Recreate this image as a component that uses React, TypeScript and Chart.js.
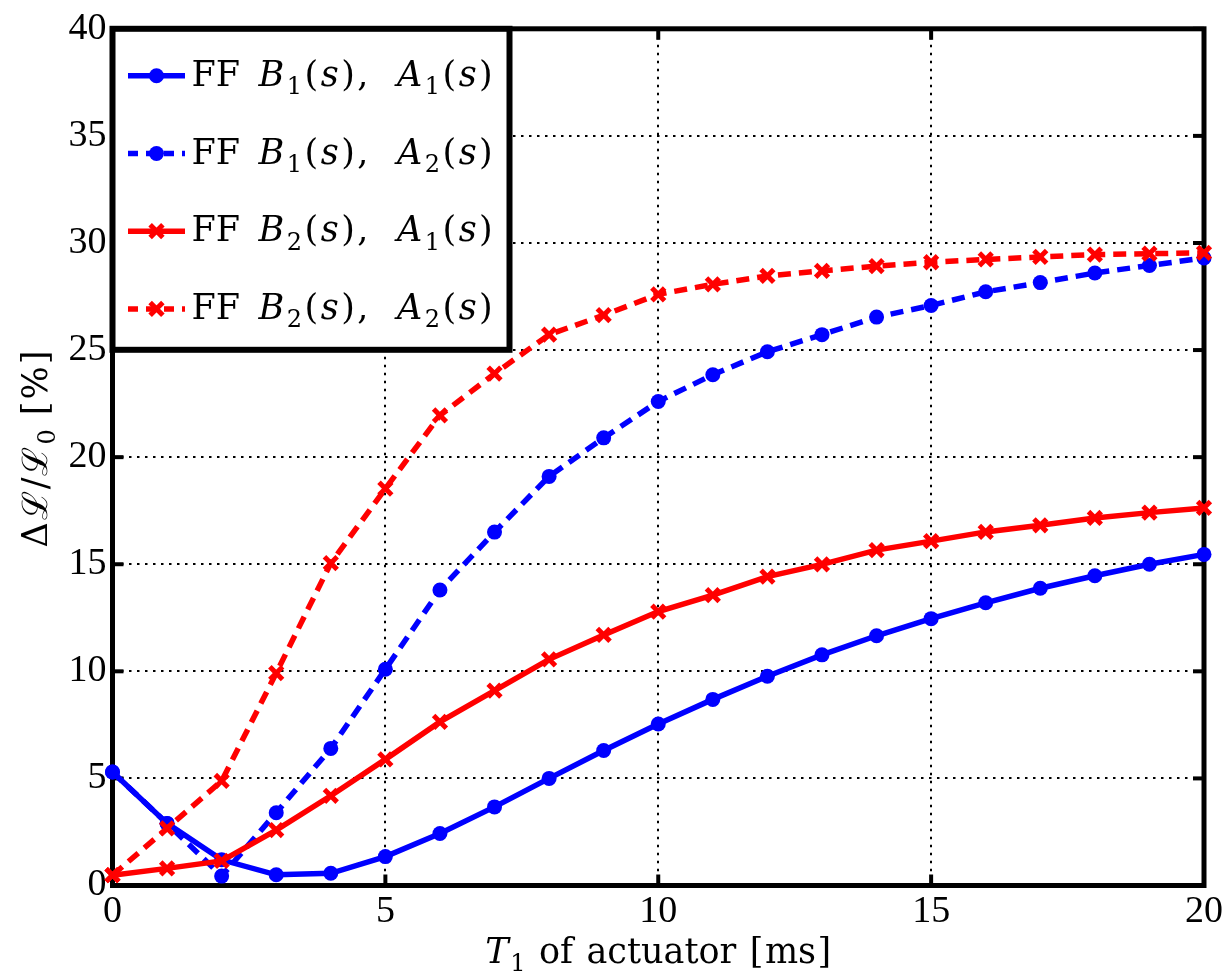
import React, { useEffect, useRef } from 'react';
import { Chart, registerables } from 'chart.js';

Chart.register(...registerables);

// ---- data ----
const T1 = [0, 1, 2, 3, 4, 5, 6, 7, 8, 9, 10, 11, 12, 13, 14, 15, 16, 17, 18, 19, 20];
const ffB1A1 = [5.3, 2.9, 1.2, 0.5, 0.57, 1.35, 2.43, 3.67, 5.0, 6.3, 7.54, 8.69, 9.77, 10.77, 11.66, 12.46, 13.2, 13.88, 14.46, 15.0, 15.46];
const ffB1A2 = [5.3, 2.9, 0.44, 3.4, 6.4, 10.1, 13.8, 16.5, 19.1, 20.9, 22.6, 23.85, 24.92, 25.72, 26.54, 27.08, 27.72, 28.15, 28.6, 28.95, 29.3];
const ffB2A1 = [0.48, 0.8, 1.15, 2.59, 4.19, 5.89, 7.64, 9.1, 10.56, 11.7, 12.79, 13.56, 14.42, 14.99, 15.66, 16.08, 16.51, 16.82, 17.16, 17.41, 17.63];
const ffB2A2 = [0.48, 2.67, 4.88, 9.92, 15.05, 18.53, 21.95, 23.9, 25.72, 26.63, 27.6, 28.07, 28.46, 28.7, 28.92, 29.1, 29.23, 29.35, 29.46, 29.5, 29.54];

const seriesLabels = ['FF B1(s), A1(s)', 'FF B1(s), A2(s)', 'FF B2(s), A1(s)', 'FF B2(s), A2(s)'];
const xTitle = 'T1 of actuator [ms]';
const yTitle = 'Δℒ/ℒ0 [%]';
const xTicks = [0, 5, 10, 15, 20];
const yTicks = [0, 5, 10, 15, 20, 25, 30, 35, 40];

const BLUE = '#0000ff';
const RED = '#ff0000';
const TICK_FONT = "'Liberation Serif', 'Times New Roman', serif";
const MATH_FONT = "'DejaVu Serif', serif";

// ---- rich text helpers ----
type Seg = { t: string; it: boolean; sub: boolean; space: boolean };

function parseRich(s: string): Seg[] {
  const segs: Seg[] = [];
  const re = /([A-Za-z]+)|(\d+)|(\s+)|([^A-Za-z\d\s])/g;
  let m: RegExpExecArray | null;
  let prevSym = false;
  while ((m = re.exec(s))) {
    if (m[1]) {
      const single = m[1].length === 1;
      segs.push({ t: m[1], it: single, sub: false, space: false });
      prevSym = single;
    } else if (m[2]) {
      segs.push({ t: m[2], it: false, sub: prevSym, space: false });
      prevSym = false;
    } else if (m[3]) {
      segs.push({ t: ' ', it: false, sub: false, space: true });
      prevSym = false;
    } else {
      segs.push({ t: m[4], it: false, sub: false, space: false });
      prevSym = m[4] === 'ℒ';
    }
  }
  return segs;
}

type RichOpts = { size: number; subSize: number; space: number; gap: number; commaSpace?: number };

function segFont(seg: Seg, o: RichOpts) {
  const sz = seg.sub ? o.subSize : o.size;
  return `${seg.it ? 'italic ' : ''}${sz}px ${MATH_FONT}`;
}

function richWidth(ctx: CanvasRenderingContext2D, segs: Seg[], o: RichOpts) {
  let w = 0;
  segs.forEach((seg, i) => {
    if (seg.space) {
      const prev = segs[i - 1];
      w += prev && prev.t === ',' && o.commaSpace ? o.commaSpace : o.space;
      return;
    }
    ctx.font = segFont(seg, o);
    w += ctx.measureText(seg.t).width;
    if (i < segs.length - 1) w += o.gap;
  });
  return w;
}

function drawRich(ctx: CanvasRenderingContext2D, segs: Seg[], x: number, y: number, o: RichOpts) {
  let cx = x;
  ctx.textBaseline = 'alphabetic';
  ctx.textAlign = 'left';
  ctx.fillStyle = '#000';
  segs.forEach((seg, i) => {
    if (seg.space) {
      const prev = segs[i - 1];
      cx += prev && prev.t === ',' && o.commaSpace ? o.commaSpace : o.space;
      return;
    }
    ctx.font = segFont(seg, o);
    const dy = seg.sub ? o.size * 0.24 : 0;
    ctx.fillText(seg.t, cx, y + dy);
    cx += ctx.measureText(seg.t).width;
    if (i < segs.length - 1) cx += o.gap;
  });
}

// ---- plugins ----
const framePlugin = {
  id: 'matlabFrame',
  beforeDatasetsDraw(chart: any) {
    const { ctx, chartArea: a, scales } = chart;
    const tl = 11;
    ctx.save();
    ctx.strokeStyle = '#000';
    ctx.lineWidth = 4;
    ctx.setLineDash([]);
    const seg = (x1: number, y1: number, x2: number, y2: number) => {
      ctx.beginPath();
      ctx.moveTo(x1, y1);
      ctx.lineTo(x2, y2);
      ctx.stroke();
    };
    scales.x.ticks.forEach((t: any) => {
      const px = scales.x.getPixelForValue(t.value);
      seg(px, a.bottom, px, a.bottom - tl);
      seg(px, a.top, px, a.top + tl);
    });
    scales.y.ticks.forEach((t: any) => {
      const py = scales.y.getPixelForValue(t.value);
      seg(a.left, py, a.left + tl, py);
      seg(a.right, py, a.right - tl, py);
    });
    ctx.lineWidth = 5;
    ctx.strokeRect(a.left, a.top, a.right - a.left, a.bottom - a.top);
    ctx.restore();
  },
};

const legendTitlePlugin = {
  id: 'matlabLegendTitles',
  afterDraw(chart: any) {
    const { ctx, chartArea: a } = chart;
    ctx.save();
    // legend box
    const lx = a.left;
    const ly = a.top;
    const lw = 397;
    const lh = 321;
    ctx.fillStyle = '#fff';
    ctx.fillRect(lx, ly, lw, lh);
    ctx.strokeStyle = '#000';
    ctx.lineWidth = 6;
    ctx.setLineDash([]);
    ctx.strokeRect(lx, ly, lw, lh);

    const legOpts: RichOpts = { size: 35, subSize: 24, space: 16, gap: 2.5, commaSpace: 26 };
    chart.data.datasets.forEach((ds: any, i: number) => {
      const rowY = ly + 47 + i * 77.7;
      const x1 = lx + 15.5;
      const x2 = lx + 72.5;
      ctx.save();
      ctx.strokeStyle = ds.borderColor;
      ctx.lineWidth = ds.borderWidth;
      ctx.setLineDash(ds.borderDash && ds.borderDash.length ? [10, 8] : []);
      ctx.beginPath();
      ctx.moveTo(x1, rowY);
      ctx.lineTo(x2, rowY);
      ctx.stroke();
      ctx.setLineDash([]);
      const mx = (x1 + x2) / 2;
      if (ds.pointStyle === 'circle') {
        ctx.fillStyle = ds.pointBackgroundColor;
        ctx.beginPath();
        ctx.arc(mx, rowY, ds.pointRadius, 0, Math.PI * 2);
        ctx.fill();
      } else {
        const r = ds.pointRadius * Math.SQRT1_2;
        ctx.strokeStyle = ds.pointBorderColor;
        ctx.lineWidth = ds.pointBorderWidth;
        ctx.beginPath();
        ctx.moveTo(mx - r, rowY - r);
        ctx.lineTo(mx + r, rowY + r);
        ctx.moveTo(mx - r, rowY + r);
        ctx.lineTo(mx + r, rowY - r);
        ctx.stroke();
      }
      ctx.restore();
      drawRich(ctx, parseRich(ds.label), lx + 79, rowY + 10, legOpts);
    });

    // x title
    const xo: RichOpts = { size: 35, subSize: 24, space: 12, gap: 1.5 };
    const xs = parseRich(xTitle);
    const xw = richWidth(ctx, xs, xo);
    drawRich(ctx, xs, (a.left + a.right) / 2 - xw / 2, 963, xo);

    // y title
    const yo: RichOpts = { size: 35, subSize: 24, space: 12, gap: 2 };
    const ys = parseRich(yTitle);
    const yw = richWidth(ctx, ys, yo);
    ctx.save();
    ctx.translate(47, (a.top + a.bottom) / 2 - 8);
    ctx.rotate(-Math.PI / 2);
    drawRich(ctx, ys, -yw / 2, 0, yo);
    ctx.restore();

    ctx.restore();
  },
};

export default function App() {
  const ref = useRef<HTMLCanvasElement | null>(null);

  useEffect(() => {
    if (!ref.current) return;
    const mk = (label: string, data: number[], color: string, dashed: boolean, marker: 'circle' | 'crossRot', order: number) => ({
      label,
      data: T1.map((t, i) => ({ x: t, y: data[i] })),
      borderColor: color,
      backgroundColor: color,
      borderWidth: 5.5,
      borderDash: dashed ? [13, 8] : [],
      pointStyle: marker,
      pointRadius: marker === 'circle' ? 7.5 : 9,
      pointBackgroundColor: color,
      pointBorderColor: color,
      pointBorderWidth: marker === 'circle' ? 0 : 5,
      fill: false,
      tension: 0,
      clip: false as any,
      order,
    });

    const chart = new Chart(ref.current, {
      type: 'line',
      data: {
        datasets: [
          mk(seriesLabels[0], ffB1A1, BLUE, false, 'circle', 4),
          mk(seriesLabels[1], ffB1A2, BLUE, true, 'circle', 3),
          mk(seriesLabels[2], ffB2A1, RED, false, 'crossRot', 2),
          mk(seriesLabels[3], ffB2A2, RED, true, 'crossRot', 1),
        ] as any,
      },
      options: {
        animation: false,
        responsive: false,
        events: [],
        layout: { padding: { left: 0, top: 25, right: 22, bottom: 0 } },
        plugins: {
          legend: { display: false },
          tooltip: { enabled: false },
          title: { display: false },
        },
        scales: {
          x: {
            type: 'linear',
            min: 0,
            max: 20,
            afterBuildTicks: (s: any) => {
              s.ticks = xTicks.map((v) => ({ value: v }));
            },
            afterFit: (s: any) => {
              s.height = 92.5;
            },
            ticks: {
              font: { family: TICK_FONT, size: 38 },
              color: '#000',
              padding: 4,
              maxRotation: 0,
              autoSkip: false,
            },
            grid: { color: '#000', lineWidth: 2, drawTicks: false },
            border: { display: false, dash: [2.5, 5.5] },
          },
          y: {
            type: 'linear',
            min: 0,
            max: 40,
            afterBuildTicks: (s: any) => {
              s.ticks = yTicks.map((v) => ({ value: v }));
            },
            afterFit: (s: any) => {
              s.width = 112.5;
            },
            ticks: {
              font: { family: TICK_FONT, size: 38 },
              color: '#000',
              padding: 6,
              autoSkip: false,
            },
            grid: { color: '#000', lineWidth: 2, drawTicks: false },
            border: { display: false, dash: [2.5, 5.5] },
          },
        },
      },
      plugins: [framePlugin, legendTitlePlugin],
    } as any);

    return () => chart.destroy();
  }, []);

  return (
    <div style={{ position: 'absolute', left: 0, top: 0, width: 1227, height: 978, background: '#fff' }}>
      <canvas ref={ref} width={1227} height={978} style={{ display: 'block', width: 1227, height: 978 }} />
    </div>
  );
}
